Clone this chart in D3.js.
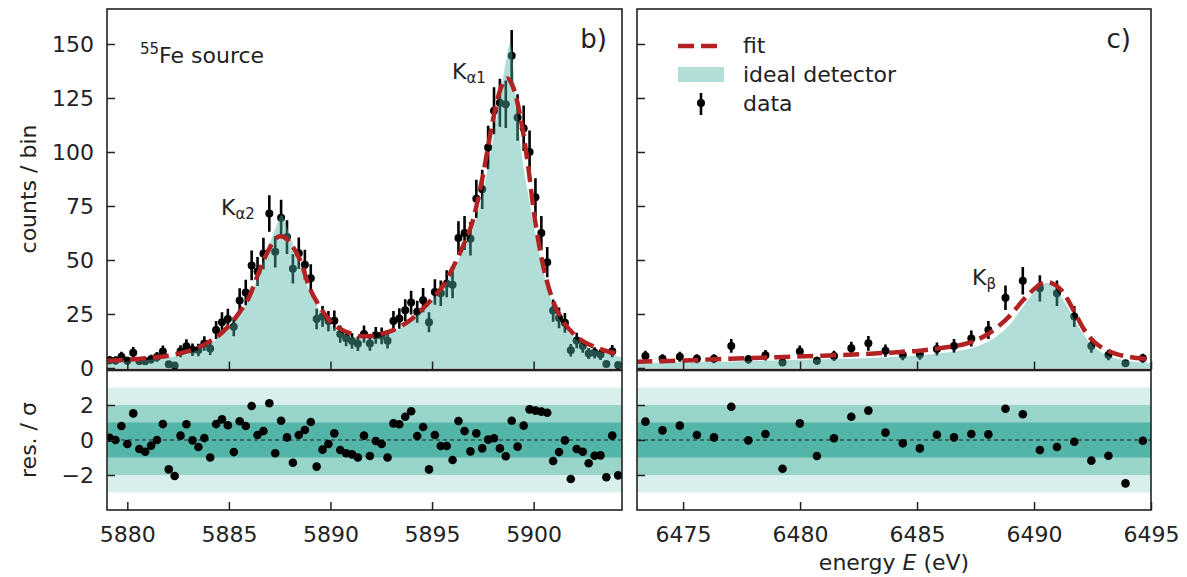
<!DOCTYPE html>
<html>
<head>
<meta charset="utf-8">
<title>55Fe spectrum</title>
<script src="https://d3js.org/d3.v7.min.js"></script>
<style>
  body { margin: 0; background: #fff; }
  svg text { font-family: "DejaVu Sans", sans-serif; fill: #222; }
</style>
</head>
<body>
<div id="chart"></div>
<script>
// ---- K-alpha panel (b) ----
const binsA = [5879.13, 5879.42, 5879.71, 5880.00, 5880.29, 5880.59, 5880.88, 5881.17, 5881.46, 5881.75,
  5882.04, 5882.33, 5882.62, 5882.91, 5883.21, 5883.50, 5883.79, 5884.08, 5884.37, 5884.66,
  5884.95, 5885.24, 5885.53, 5885.83, 5886.12, 5886.41, 5886.70, 5886.99, 5887.28, 5887.57,
  5887.86, 5888.15, 5888.44, 5888.74, 5889.03, 5889.32, 5889.61, 5889.90, 5890.19, 5890.48,
  5890.77, 5891.06, 5891.35, 5891.65, 5891.94, 5892.23, 5892.52, 5892.81, 5893.10, 5893.39,
  5893.68, 5893.97, 5894.27, 5894.56, 5894.85, 5895.14, 5895.43, 5895.72, 5896.01, 5896.30,
  5896.60, 5896.89, 5897.18, 5897.47, 5897.76, 5898.05, 5898.34, 5898.63, 5898.92, 5899.21,
  5899.51, 5899.80, 5900.09, 5900.38, 5900.67, 5900.96, 5901.25, 5901.54, 5901.83, 5902.12,
  5902.42, 5902.71, 5903.00, 5903.29, 5903.58, 5903.87, 5904.16];
const countsA = [3.6, 3.5, 5.2, 3.4, 7.1, 3.2, 3.1, 4.1, 5.1, 7.6,
  1.7, 1.2, 7.7, 10.1, 8.4, 8.3, 11.3, 9.0, 17.6, 21.2,
  22.7, 19.1, 31.3, 34.9, 47.5, 44.7, 53.0, 71.5, 53.8, 69.5,
  60.6, 45.9, 53.1, 47.8, 41.6, 22.7, 23.8, 21.7, 21.9, 15.7,
  13.8, 12.5, 11.2, 15.7, 11.3, 15.1, 14.9, 12.6, 21.7, 22.9,
  26.7, 30.3, 26.0, 31.4, 21.2, 35.2, 34.6, 39.0, 38.5, 60.2,
  62.5, 59.8, 78.3, 82.7, 102.1, 119.1, 122.8, 122.1, 144.5, 116,
  111, 100, 79, 62.5, 49, 26.6, 23.2, 20.9, 8.2, 12.7,
  10.2, 6.7, 7.0, 6.2, 1.9, 7.8, 1.4];
const residA = [0.13, 0.0, 0.8, -0.23, 1.52, -0.51, -0.67, -0.32, 0.0, 0.91,
  -1.68, -2.06, 0.25, 0.9, -0.02, -0.4, 0.11, -1.0, 0.91, 1.18,
  0.84, -0.69, 1.07, 0.8, 1.94, 0.29, 0.51, 2.1, -0.76, 1.1,
  0.15, -1.3, 0.29, 0.57, 1.03, -1.52, -0.55, -0.23, 0.38, -0.57,
  -0.76, -0.82, -1.0, 0.25, -0.91, -0.06, -0.23, -1.0, 0.95, 0.9,
  1.33, 1.64, 0.23, 0.74, -1.68, 0.29, -0.34, -0.34, -1.14, 1.09,
  0.51, -0.65, 0.38, -0.48, 0.02, 0.1, -0.48, -0.93, 1.1, -0.38,
  0.82, 1.75, 1.68, 1.62, 1.56, -1.2, -0.69, -0.02, -2.23, -0.51,
  -0.67, -1.33, -0.9, -0.88, -2.13, 0.25, -2.02];
const fitEA = [5879, 5880, 5881, 5882, 5883, 5883.5, 5884, 5884.5, 5885, 5885.5,
  5886, 5886.5, 5887, 5887.25, 5887.5, 5887.75, 5888, 5888.5, 5889, 5889.5,
  5890, 5890.5, 5891, 5891.5, 5892, 5892.5, 5893, 5893.5, 5894, 5894.5,
  5895, 5895.5, 5896, 5896.5, 5897, 5897.5, 5898, 5898.25, 5898.5, 5898.7,
  5898.9, 5899.2, 5899.5, 5899.75, 5900, 5900.25, 5900.5, 5900.75, 5901, 5901.5,
  5902, 5902.5, 5903, 5903.5, 5904, 5904.4];
const fitA = [3.3, 3.8, 4.6, 5.7, 7.8, 9.5, 12, 15, 19.5, 25.5,
  33, 45, 55.5, 59.3, 61, 60.5, 58, 50, 36.5, 28,
  21.5, 18, 16, 14.7, 14.8, 15.8, 17.2, 19.5, 22.7, 27,
  32, 37.5, 46, 56, 68, 89, 115, 125.5, 132, 134,
  132, 123, 108, 92, 73, 58, 46, 37, 30, 21,
  15.5, 12, 9.8, 8.1, 6.8, 6];
const idealEA = [5879, 5880, 5881, 5882, 5883, 5883.5, 5884, 5884.5, 5885, 5885.5,
  5886, 5886.5, 5887, 5887.3, 5887.6, 5887.9, 5888.2, 5888.5, 5889, 5889.5,
  5890, 5890.5, 5891, 5891.5, 5892, 5892.5, 5893, 5893.5, 5894, 5894.5,
  5895, 5895.5, 5896, 5896.5, 5897, 5897.5, 5898, 5898.3, 5898.6, 5898.85,
  5899.1, 5899.4, 5899.7, 5900, 5900.5, 5901, 5901.5, 5902, 5902.5, 5903,
  5903.5, 5904, 5904.4];
const idealA = [2.5, 3.0, 3.7, 4.8, 6.8, 8.5, 10.8, 14, 18.5, 24.5,
  32, 44, 57, 65, 70.8, 64, 56, 47.5, 35, 26,
  20, 16.5, 14.5, 13.5, 13.6, 14.6, 16.2, 18.5, 22, 26.5,
  31.5, 37, 44.5, 54, 64, 81, 106, 123, 140, 150.5,
  128, 100, 82, 66, 44, 28, 19, 14, 10.5, 8.3,
  6.8, 5.7, 5.0];

// ---- K-beta panel (c) ----
const binsB = [6473.39, 6474.12, 6474.86, 6475.59, 6476.32, 6477.06, 6477.79, 6478.52, 6479.25, 6479.99,
  6480.72, 6481.45, 6482.19, 6482.92, 6483.65, 6484.39, 6485.12, 6485.85, 6486.58, 6487.32,
  6488.05, 6488.78, 6489.52, 6490.25, 6490.98, 6491.72, 6492.45, 6493.18, 6493.91, 6494.65];
const countsB = [5.6, 4.3, 5.2, 4.3, 4.3, 10.2, 4.0, 5.9, 2.5, 7.6,
  3.4, 5.6, 9.1, 11.4, 8.0, 6.0, 6.3, 8.8, 10.2, 13.7,
  17.6, 32.5, 40.4, 36.9, 34.6, 23.8, 10.2, 6.0, 2.2, 4.5];
const residB = [1.05, 0.55, 0.82, 0.29, 0.15, 1.9, -0.02, 0.34, -1.64, 0.95,
  -0.91, 0.1, 1.33, 1.68, 0.42, -0.19, -0.48, 0.3, 0.15, 0.34,
  0.32, 1.79, 1.47, -0.57, -0.4, -0.1, -1.18, -0.9, -2.48, -0.04];
const fitEB = [6473, 6475, 6477, 6479, 6481, 6483, 6484, 6485, 6486, 6487,
  6487.5, 6488, 6488.5, 6489, 6489.5, 6490, 6490.3, 6490.6, 6490.9, 6491.25,
  6491.5, 6491.8, 6492.1, 6492.4, 6492.75, 6493.1, 6493.5, 6494, 6494.5, 6495];
const fitB = [2.9, 3.5, 4.3, 5.0, 5.7, 6.6, 7.2, 7.9, 9.2, 11,
  12.8, 15.5, 19.5, 24.5, 31, 36.5, 39, 39.7, 38.5, 35,
  30.5, 24.5, 18.5, 14, 10.5, 8.3, 6.5, 5.3, 4.5, 4];
const idealEB = [6473, 6477, 6481, 6483, 6485, 6486, 6487, 6487.5, 6488, 6488.5,
  6489, 6489.5, 6490, 6490.3, 6490.55, 6490.8, 6491.1, 6491.5, 6492, 6492.5,
  6493, 6493.5, 6494, 6494.5, 6495];
const idealB = [2.3, 3.0, 4.0, 4.6, 5.8, 6.8, 8.3, 9.7, 12, 15.5,
  20.5, 28, 35, 38.3, 39.5, 38, 34, 27, 17.5, 10.5,
  6.5, 4.5, 3.3, 2.7, 2.3];

const countTicks = [0, 25, 50, 75, 100, 125, 150];
const resTicks = [-2, 0, 2];
const ticksA = [5880, 5885, 5890, 5895, 5900];
const ticksB = [6475, 6480, 6485, 6490, 6495];

const W = 1187, H = 577;
const font = "'DejaVu Sans', sans-serif";
const ink = "#222";
const teal = "#50b4a6";

const svg = d3.select("#chart").append("svg")
  .attr("width", W).attr("height", H);

const yTop = d3.scaleLinear().domain([-0.7, 166.2]).range([369.5, 9]);
const yRes = d3.scaleLinear().domain([-4, 4]).range([510, 370]);

const panels = [
  { id: "a", left: 107, right: 622, domain: [5879.0, 5904.35], bins: binsA, counts: countsA,
    resid: residA, fitE: fitEA, fit: fitA, idealE: idealEA, ideal: idealA, ticks: ticksA, labels: true },
  { id: "b", left: 637, right: 1151, domain: [6473.03, 6495], bins: binsB, counts: countsB,
    resid: residB, fitE: fitEB, fit: fitB, idealE: idealEB, ideal: idealB, ticks: ticksB, labels: false }
];

function styleAxis(g) {
  g.select(".domain").remove();
  g.attr("font-family", font).attr("font-size", 22);
  g.selectAll(".tick line").attr("stroke", ink).attr("stroke-width", 1.5);
  g.selectAll(".tick text").attr("fill", ink);
}

const defs = svg.append("defs");

panels.forEach(p => {
  const x = d3.scaleLinear().domain(p.domain).range([p.left, p.right]);
  const w = p.right - p.left;

  // ---------- upper spectrum panel ----------
  defs.append("clipPath").attr("id", "clipTop" + p.id)
    .append("rect").attr("x", p.left).attr("y", 9).attr("width", w).attr("height", 360.5);
  const gt = svg.append("g").attr("clip-path", "url(#clipTop" + p.id + ")");
  const pts = p.bins.map((e, i) => ({ e: e, c: p.counts[i], r: p.resid[i] }));

  gt.selectAll("line.err").data(pts).enter().append("line")
    .attr("x1", d => x(d.e)).attr("x2", d => x(d.e))
    .attr("y1", d => yTop(d.c - Math.sqrt(d.c)))
    .attr("y2", d => yTop(d.c + Math.sqrt(d.c)))
    .attr("stroke", "#000").attr("stroke-width", 2.6);
  gt.selectAll("circle.pt").data(pts).enter().append("circle")
    .attr("cx", d => x(d.e)).attr("cy", d => yTop(d.c)).attr("r", 4)
    .attr("fill", "#000");

  const idealPts = p.idealE.map((e, i) => [e, p.ideal[i]]);
  gt.append("path").datum(idealPts)
    .attr("d", d3.area().curve(d3.curveMonotoneX)
      .x(d => x(d[0])).y0(yTop(0)).y1(d => yTop(d[1])))
    .attr("fill", teal).attr("fill-opacity", 0.44);

  const fitPts = p.fitE.map((e, i) => [e, p.fit[i]]);
  gt.append("path").datum(fitPts)
    .attr("d", d3.line().curve(d3.curveMonotoneX).x(d => x(d[0])).y(d => yTop(d[1])))
    .attr("fill", "none").attr("stroke", "#b22222").attr("stroke-width", 4.5)
    .attr("stroke-dasharray", "16,7");

  svg.append("g").attr("transform", "translate(0,369.5)")
    .call(d3.axisBottom(x).tickValues(p.ticks).tickSizeInner(-8).tickSizeOuter(0).tickFormat(""))
    .call(styleAxis);
  svg.append("g").attr("transform", "translate(" + p.left + ",0)")
    .call(d3.axisLeft(yTop).tickValues(countTicks).tickSizeInner(-8).tickSizeOuter(0)
      .tickPadding(13).tickFormat(p.labels ? d3.format("d") : ""))
    .call(styleAxis);

  svg.append("rect").attr("x", p.left).attr("y", 9).attr("width", w).attr("height", 360.5)
    .attr("fill", "none").attr("stroke", ink).attr("stroke-width", 1.6);

  // ---------- residual panel ----------
  defs.append("clipPath").attr("id", "clipRes" + p.id)
    .append("rect").attr("x", p.left).attr("y", 370.5).attr("width", w).attr("height", 139.5);
  const gr = svg.append("g").attr("clip-path", "url(#clipRes" + p.id + ")");
  [[3, "#d9efeb"], [2, "#99d4ca"], [1, "#53b5a8"]].forEach(b => {
    gr.append("rect").attr("x", p.left).attr("width", w)
      .attr("y", yRes(b[0])).attr("height", yRes(-b[0]) - yRes(b[0]))
      .attr("fill", b[1]);
  });
  gr.append("line").attr("x1", p.left).attr("x2", p.right)
    .attr("y1", yRes(0)).attr("y2", yRes(0))
    .attr("stroke", ink).attr("stroke-width", 1).attr("stroke-dasharray", "4,3");
  gr.selectAll("circle.res").data(pts).enter().append("circle")
    .attr("cx", d => x(d.e)).attr("cy", d => yRes(d.r)).attr("r", 4.3)
    .attr("fill", "#000");

  svg.append("g").attr("transform", "translate(0,510)")
    .call(d3.axisBottom(x).tickValues(p.ticks).tickSizeInner(-8).tickSizeOuter(0)
      .tickPadding(16).tickFormat(d3.format("d")))
    .call(styleAxis);
  svg.append("g").attr("transform", "translate(" + p.left + ",0)")
    .call(d3.axisLeft(yRes).tickValues(resTicks).tickSizeInner(-8).tickSizeOuter(0)
      .tickPadding(13).tickFormat(p.labels ? d3.format("d") : ""))
    .call(styleAxis);

  svg.append("rect").attr("x", p.left).attr("y", 370.5).attr("width", w).attr("height", 139.5)
    .attr("fill", "none").attr("stroke", ink).attr("stroke-width", 1.6);
});

// ---------- labels ----------
svg.append("text").attr("transform", "translate(36,189) rotate(-90)")
  .attr("text-anchor", "middle").attr("font-size", 22).text("counts / bin");
svg.append("text").attr("transform", "translate(36,440) rotate(-90)")
  .attr("text-anchor", "middle").attr("font-size", 22).text("res. / σ");

const xl = svg.append("text").attr("x", 894).attr("y", 570)
  .attr("text-anchor", "middle").attr("font-size", 22);
xl.append("tspan").text("energy ");
xl.append("tspan").attr("font-style", "italic").text("E");
xl.append("tspan").text(" (eV)");

const src = svg.append("text").attr("x", 140).attr("y", 63).attr("font-size", 22);
src.append("tspan").attr("font-size", 15).attr("dy", -9).text("55");
src.append("tspan").attr("dy", 9).text("Fe source");

svg.append("text").attr("x", 607).attr("y", 48).attr("text-anchor", "end")
  .attr("font-size", 26).text("b)");
svg.append("text").attr("x", 1131).attr("y", 48).attr("text-anchor", "end")
  .attr("font-size", 26).text("c)");

function lineLabel(xp, yp, sub) {
  const t = svg.append("text").attr("x", xp).attr("y", yp).attr("font-size", 22);
  t.append("tspan").text("K");
  t.append("tspan").attr("font-size", 15).attr("dy", 4).text(sub);
}
lineLabel(452, 79, "α1");
lineLabel(221, 215, "α2");
lineLabel(972, 285, "β");

// ---------- legend ----------
const lg = svg.append("g");
lg.append("line").attr("x1", 678).attr("x2", 720).attr("y1", 46).attr("y2", 46)
  .attr("stroke", "#b22222").attr("stroke-width", 4.5).attr("stroke-dasharray", "16,7");
lg.append("text").attr("x", 743).attr("y", 53).attr("font-size", 22).text("fit");
lg.append("rect").attr("x", 678).attr("y", 67).attr("width", 46).attr("height", 15)
  .attr("fill", teal).attr("fill-opacity", 0.44);
lg.append("text").attr("x", 743).attr("y", 82).attr("font-size", 22).text("ideal detector");
lg.append("line").attr("x1", 701).attr("x2", 701).attr("y1", 93).attr("y2", 115)
  .attr("stroke", "#000").attr("stroke-width", 2.6);
lg.append("circle").attr("cx", 701).attr("cy", 103).attr("r", 4).attr("fill", "#000");
lg.append("text").attr("x", 743).attr("y", 111).attr("font-size", 22).text("data");
</script>
</body>
</html>
